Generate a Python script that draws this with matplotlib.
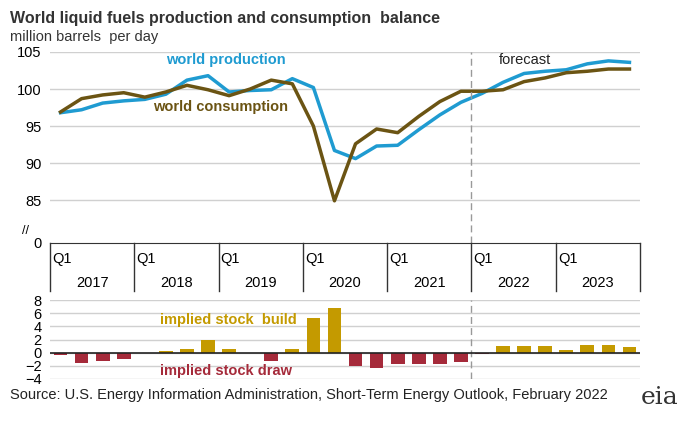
import numpy as np
import matplotlib.pyplot as plt

plt.rcParams['font.family'] = ['Liberation Sans', 'DejaVu Sans']

years = ['2017', '2018', '2019', '2020', '2021', '2022', '2023']
production = [96.8, 97.2, 98.1, 98.4, 98.6, 99.3, 101.2, 101.8, 99.6, 99.8, 99.9, 101.4,
              100.2, 91.7, 90.6, 92.3, 92.4, 94.5, 96.5, 98.2, 99.4, 100.9, 102.1, 102.4,
              102.6, 103.4, 103.8, 103.6]
consumption = [96.9, 98.7, 99.2, 99.5, 98.9, 99.6, 100.5, 99.9, 99.1, 100.0, 101.2, 100.7,
               95.0, 84.9, 92.6, 94.6, 94.1, 96.3, 98.3, 99.7, 99.7, 99.9, 101.0, 101.5,
               102.2, 102.4, 102.7, 102.7]
stock = [-0.3, -1.6, -1.2, -1.0, 0.0, 0.3, 0.6, 1.9, 0.5, 0.0, -1.3, 0.6, 5.2, 6.8,
         -2.0, -2.4, -1.7, -1.7, -1.7, -1.4, -0.2, 1.0, 1.0, 1.0, 0.4, 1.1, 1.1, 0.9]

x = np.arange(len(production)) + 0.5
W, H = 694, 421
fig = plt.figure(figsize=(W / 100, H / 100), dpi=100)
grid_c = '#d0d0d0'
blue = '#1f9bd1'
brown = '#6b5413'

# top panel
ax = fig.add_axes([50 / W, 1 - 243 / H, 590 / W, 191 / H])
ax.set_xlim(0, 28)
ax.set_ylim(79.2, 105)
for v in [85, 90, 95, 100, 105]:
    ax.axhline(v, color=grid_c, lw=1, zorder=0)
ax.plot(x, production, color=blue, lw=2.5)
ax.plot(x, consumption, color=brown, lw=2.5)
ax.axvline(20, color='#999999', lw=1, ls=(0, (5, 3)))
ax.set_yticks([79.2, 85, 90, 95, 100, 105])
ax.set_yticklabels(['0', '85', '90', '95', '100', '105'], fontsize=10.5)
ax.text(-0.035, 0.045, '//', transform=ax.transAxes, ha='right', fontsize=9)
ax.tick_params(length=0, pad=6)
ax.set_xticks([])
for s in ['top', 'right', 'left']:
    ax.spines[s].set_visible(False)
ax.spines['bottom'].set_color('#333333')
ax.text(5.5, 103.4, 'world production', color=blue, fontsize=10.5, fontweight='bold')
ax.text(4.9, 97.0, 'world consumption', color=brown, fontsize=10.5, fontweight='bold')
ax.text(21.3, 103.4, 'forecast', color='#222222', fontsize=10.5)

# year / quarter labels below the top panel
for i, yr in enumerate(years):
    ax.plot([4 * i, 4 * i], [0, -0.25], transform=ax.get_xaxis_transform(),
            color='#333333', lw=1, clip_on=False)
    ax.text(4 * i + 0.1, -0.045, 'Q1', transform=ax.get_xaxis_transform(),
            ha='left', va='top', fontsize=10.5)
    ax.text(4 * i + 2, -0.175, yr, transform=ax.get_xaxis_transform(),
            ha='center', va='top', fontsize=10.5)
ax.plot([28, 28], [0, -0.25], transform=ax.get_xaxis_transform(),
        color='#333333', lw=1, clip_on=False)

# bottom panel
bx = fig.add_axes([50 / W, 1 - 379 / H, 590 / W, 79 / H])
bx.set_xlim(0, 28)
bx.set_ylim(-4, 8)
for v in range(-4, 9, 2):
    bx.axhline(v, color=grid_c, lw=1, zorder=0)
cols = ['#c49a00' if v > 0 else '#a52a3a' for v in stock]
bx.bar(x, stock, width=0.65, color=cols, zorder=2)
bx.axhline(0, color='#222222', lw=1.2, zorder=3)
bx.axvline(20, color='#999999', lw=1, ls=(0, (5, 3)))
bx.set_yticks(range(-4, 9, 2))
bx.tick_params(length=0, labelsize=10.5, pad=6)
bx.set_xticks([])
for s in bx.spines.values():
    s.set_visible(False)
bx.text(5.2, 4.4, 'implied stock  build', color='#c49a00', fontsize=10.5, fontweight='bold')
bx.text(5.2, -3.4, 'implied stock draw', color='#a52a3a', fontsize=10.5, fontweight='bold')

fig.text(10 / W, 1 - 18 / H, 'World liquid fuels production and consumption  balance',
         fontsize=11.5, fontweight='bold', color='#333333', va='center')
fig.text(10 / W, 1 - 37 / H, 'million barrels  per day', fontsize=10.5, color='#333333', va='center')
fig.text(10 / W, 1 - 395 / H,
         'Source: U.S. Energy Information Administration, Short-Term Energy Outlook, February 2022',
         fontsize=10.5, color='#222222', va='center')
fig.text(660 / W, 1 - 398 / H, 'eia', fontsize=18, family='serif', color='#333333', ha='center', va='center')

fig.savefig('out.png', dpi=100)
